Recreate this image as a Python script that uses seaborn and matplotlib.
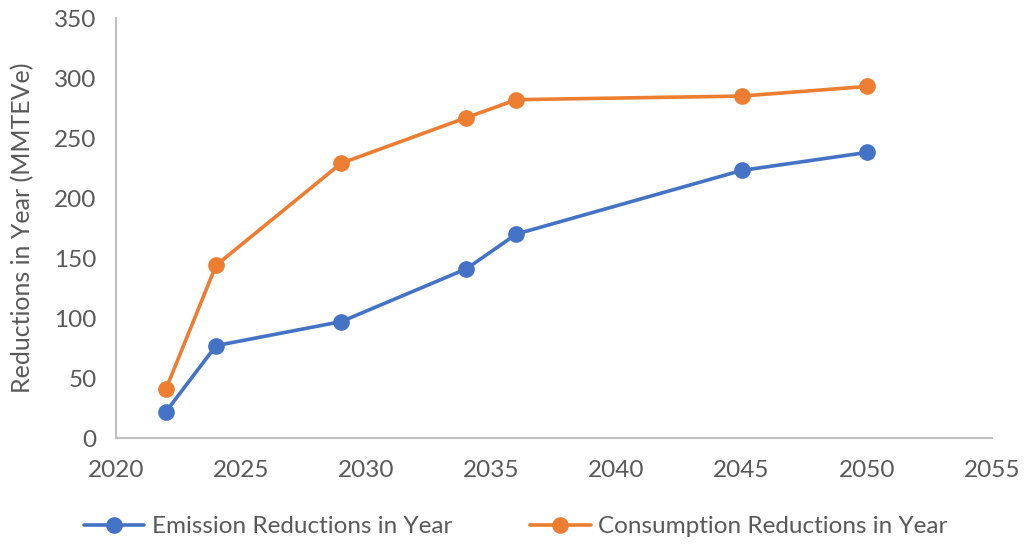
import matplotlib
matplotlib.use('Agg')
from matplotlib import pyplot as plt
import seaborn as sns
import pandas as pd

# datos
years = [2022, 2024, 2029, 2034, 2036, 2045, 2050]
emission = [22, 77, 97, 141, 170, 223, 238]
consumption = [41, 144, 229, 267, 282, 285, 293]
series_names = ['Emission Reductions in Year', 'Consumption Reductions in Year']
colors = ['#4472C4', '#ED7D31']

df = pd.DataFrame({
    'Year': years * 2,
    'Value': emission + consumption,
    'Serie': [series_names[0]] * len(years) + [series_names[1]] * len(years),
})

sns.set_style('white')
plt.rcParams['font.family'] = ['Lato', 'DejaVu Sans']
gris = '#595959'

fig = plt.figure(figsize=(10.31, 5.48), dpi=100)
ax = fig.add_axes([0.1125, 0.2007, 0.8495, 0.7663])
sns.lineplot(data=df, x='Year', y='Value', hue='Serie', palette=colors,
             marker='o', markersize=12, markeredgewidth=0, linewidth=2.6,
             ax=ax, legend=False)

ax.set_xlim(2020, 2055)
ax.set_ylim(0, 350)
ax.set_xticks(range(2020, 2056, 5))
ax.set_yticks(range(0, 351, 50))
ax.tick_params(axis='both', length=0, labelsize=17.5, labelcolor=gris)
ax.tick_params(axis='x', pad=16)
ax.tick_params(axis='y', pad=14)
ax.set_xlabel('')
ax.set_ylabel('Reductions in Year (MMTEVe)', fontsize=18, color=gris, labelpad=14)
for s in ['top', 'right']:
    ax.spines[s].set_visible(False)
for s in ['left', 'bottom']:
    ax.spines[s].set_color('#BFBFBF')
    ax.spines[s].set_linewidth(1.5)

handles = [plt.Line2D([], [], color=c, marker='o', markersize=12, linewidth=2.6,
                      markeredgewidth=0) for c in colors]
fig.legend(handles, series_names, loc='lower center', ncol=2, frameon=False,
           fontsize=17.5, labelcolor=gris, bbox_to_anchor=(0.5, -0.02),
           handlelength=2.5, handletextpad=0.3, columnspacing=3.2)

fig.savefig('out.png', dpi=100)
